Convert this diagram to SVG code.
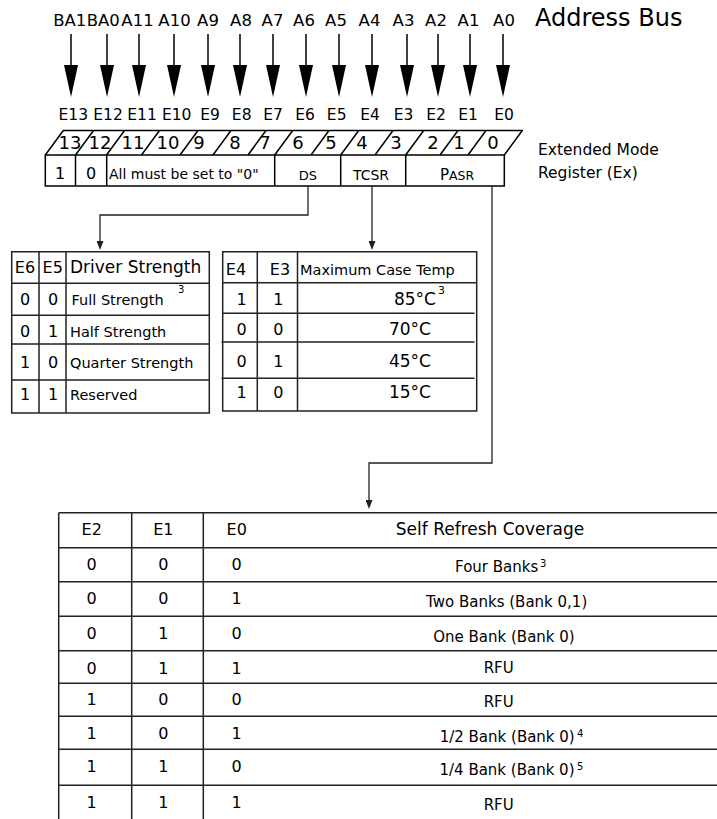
<svg xmlns="http://www.w3.org/2000/svg" width="717" height="819" viewBox="0 0 717 819">
<style>
text{font-family:"DejaVu Sans",Verdana,sans-serif;fill:#000}
.m{text-anchor:middle}
.bus{font-size:16.5px}
.eb{font-size:15.5px}
.bn{font-size:18px}
.ln{stroke:#000;stroke-width:1.5;fill:none}
.tl{stroke:#222;stroke-width:1.5;fill:none}
.arr{stroke:#000;stroke-width:1.5;fill:none;marker-end:url(#big)}
.con{stroke:#222;stroke-width:1.3;fill:none;marker-end:url(#small)}
.sup{font-size:10px}
</style>
<defs>
<marker id="big" viewBox="0 0 32 14" refX="25" refY="7" markerWidth="32" markerHeight="14" markerUnits="userSpaceOnUse" orient="auto"><path d="M0,0 L32,7 L0,14 z" fill="#000"/></marker>
<marker id="small" viewBox="0 0 9 7" refX="6" refY="3.5" markerWidth="9" markerHeight="7" markerUnits="userSpaceOnUse" orient="auto"><path d="M0,0 L9,3.5 L0,7 z" fill="#222"/></marker>
</defs>

<g id="address-bus">
<text class="bus m" x="69.7" y="26">BA1</text>
<text class="bus m" x="103.3" y="26">BA0</text>
<text class="bus m" x="137.5" y="26">A11</text>
<text class="bus m" x="174.5" y="26">A10</text>
<text class="bus m" x="208" y="26">A9</text>
<text class="bus m" x="241" y="26">A8</text>
<text class="bus m" x="272.5" y="26">A7</text>
<text class="bus m" x="304" y="26">A6</text>
<text class="bus m" x="336" y="26">A5</text>
<text class="bus m" x="369.5" y="26">A4</text>
<text class="bus m" x="403.5" y="26">A3</text>
<text class="bus m" x="436" y="26">A2</text>
<text class="bus m" x="468.5" y="26">A1</text>
<text class="bus m" x="504" y="26">A0</text>
<text x="535" y="26" style="font-size:24px">Address Bus</text>
<text class="eb m" x="73.3" y="120">E13</text>
<text class="eb m" x="108" y="120">E12</text>
<text class="eb m" x="142" y="120">E11</text>
<text class="eb m" x="176.7" y="120">E10</text>
<text class="eb m" x="210" y="120">E9</text>
<text class="eb m" x="241.7" y="120">E8</text>
<text class="eb m" x="273" y="120">E7</text>
<text class="eb m" x="305" y="120">E6</text>
<text class="eb m" x="336.7" y="120">E5</text>
<text class="eb m" x="370" y="120">E4</text>
<text class="eb m" x="403.5" y="120">E3</text>
<text class="eb m" x="436" y="120">E2</text>
<text class="eb m" x="468" y="120">E1</text>
<text class="eb m" x="504" y="120">E0</text>
</g>

<g id="register">
<path class="ln" d="M63,130.5 H523 M45.3,155 H504.3 V186 H45.3 Z M75.5,155 V186 M106.7,155 V186 M274.7,155 V186 M340.7,155 V186 M405.7,155 V186"/>
<path class="ln" d="M45.3,155 l18,-24.5 M75.5,155 l18,-24.5 M106.5,155 l18,-24.5 M141.5,155 l18,-24.5 M180,155 l18,-24.5 M213,155 l18,-24.5 M248,155 l18,-24.5 M274.7,155 l18,-24.5 M311,155 l18,-24.5 M340.7,155 l18,-24.5 M375,155 l18,-24.5 M405.7,155 l18,-24.5 M440,155 l18,-24.5 M468,155 l18,-24.5 M504.3,155 l18,-24.5"/>
<text class="bn m" x="70" y="149">13</text>
<text class="bn m" x="100" y="149">12</text>
<text class="bn m" x="133" y="149">11</text>
<text class="bn m" x="168" y="149">10</text>
<text class="bn m" x="199" y="149">9</text>
<text class="bn m" x="235" y="149">8</text>
<text class="bn m" x="265" y="149">7</text>
<text class="bn m" x="298" y="149">6</text>
<text class="bn m" x="331" y="149">5</text>
<text class="bn m" x="362" y="149">4</text>
<text class="bn m" x="396" y="149">3</text>
<text class="bn m" x="433" y="149">2</text>
<text class="bn m" x="459" y="149">1</text>
<text class="bn m" x="493" y="149">0</text>
<text class="m" x="60" y="179" style="font-size:16px">1</text>
<text class="m" x="91" y="179" style="font-size:16px">0</text>
<text x="109" y="179" style="font-size:14px">All must be set to "0"</text>
<text class="m" x="308" y="180" style="font-size:13px">DS</text>
<text class="m" x="371" y="180" style="font-size:14px">TCSR</text>
<text class="m" x="457" y="180" style="font-size:12.5px"><tspan style="font-size:15px">P</tspan>ASR</text>
<text x="538" y="155" style="font-size:15.5px">Extended Mode</text>
<text x="538" y="178" style="font-size:15.5px">Register (Ex)</text>
</g>

<g id="connectors">
<line class="arr" x1="71" y1="34" x2="71" y2="90"/>
<line class="arr" x1="107" y1="34" x2="107" y2="90"/>
<line class="arr" x1="139" y1="34" x2="139" y2="90"/>
<line class="arr" x1="174" y1="34" x2="174" y2="90"/>
<line class="arr" x1="208" y1="34" x2="208" y2="90"/>
<line class="arr" x1="240" y1="34" x2="240" y2="90"/>
<line class="arr" x1="273" y1="34" x2="273" y2="90"/>
<line class="arr" x1="306" y1="34" x2="306" y2="90"/>
<line class="arr" x1="339" y1="34" x2="339" y2="90"/>
<line class="arr" x1="372" y1="34" x2="372" y2="90"/>
<line class="arr" x1="407" y1="34" x2="407" y2="90"/>
<line class="arr" x1="438" y1="34" x2="438" y2="90"/>
<line class="arr" x1="470" y1="34" x2="470" y2="90"/>
<line class="arr" x1="503" y1="34" x2="503" y2="90"/>
<path class="con" d="M308,186 V215 H100 V247"/>
<path class="con" d="M372,186 V247"/>
<path class="con" d="M492,186 V463 H369 V506"/>
</g>

<g id="driver-strength-table">
<path class="tl" d="M11.7,251.7 H209.3 V413 H11.7 Z M39,251.7 V413 M66,251.7 V413 M11.7,283.3 H209.3 M11.7,315.3 H209.3 M11.7,344 H209.3 M11.7,380 H209.3"/>
<text class="m" x="25" y="273" style="font-size:16px">E6</text>
<text class="m" x="52.7" y="273" style="font-size:16px">E5</text>
<text x="70" y="273" style="font-size:17px">Driver Strength</text>
<text class="m" x="25" y="305" style="font-size:16px">0</text>
<text class="m" x="53" y="305" style="font-size:16px">0</text>
<text x="71.5" y="305" style="font-size:14.5px">Full Strength</text>
<text class="sup" x="178" y="293">3</text>
<text class="m" x="25" y="336.7" style="font-size:16px">0</text>
<text class="m" x="53" y="336.7" style="font-size:16px">1</text>
<text x="70" y="336.7" style="font-size:14.5px">Half Strength</text>
<text class="m" x="25" y="368.3" style="font-size:16px">1</text>
<text class="m" x="53" y="368.3" style="font-size:16px">0</text>
<text x="70" y="368.3" style="font-size:14.5px">Quarter Strength</text>
<text class="m" x="25" y="400" style="font-size:16px">1</text>
<text class="m" x="53" y="400" style="font-size:16px">1</text>
<text x="70" y="400" style="font-size:14.5px">Reserved</text>
</g>

<g id="case-temp-table">
<path class="tl" d="M222.7,251.7 H476.7 V411 H222.7 Z M257.3,251.7 V411 M297.5,251.7 V411 M222.7,282.7 H476.7 M222,313.3 H474.5 M221.5,342 H474.5 M221.5,378.3 H474.5"/>
<text class="m" x="236" y="275" style="font-size:16px">E4</text>
<text class="m" x="280" y="275" style="font-size:16px">E3</text>
<text x="300" y="275" style="font-size:14.5px">Maximum Case Temp</text>
<text class="m" x="241.5" y="305" style="font-size:16px">1</text>
<text class="m" x="278.3" y="305" style="font-size:16px">1</text>
<text class="m" x="415" y="305" style="font-size:17px">85°C</text>
<text x="438" y="294" style="font-size:11px">3</text>
<text class="m" x="241.5" y="335" style="font-size:16px">0</text>
<text class="m" x="278.3" y="335" style="font-size:16px">0</text>
<text class="m" x="410" y="335" style="font-size:17px">70°C</text>
<text class="m" x="241.5" y="366.7" style="font-size:16px">0</text>
<text class="m" x="278.3" y="366.7" style="font-size:16px">1</text>
<text class="m" x="410" y="366.7" style="font-size:17px">45°C</text>
<text class="m" x="241.5" y="398.3" style="font-size:16px">1</text>
<text class="m" x="278.3" y="398.3" style="font-size:16px">0</text>
<text class="m" x="410" y="398.3" style="font-size:17px">15°C</text>
</g>

<g id="self-refresh-table">
<path class="tl" d="M58.7,512.7 H720 M58.7,547.7 H720 M58.7,581.7 H720 M58.7,616.3 H720 M58.7,650.7 H720 M58.7,683.3 H720 M58.7,716.3 H720 M58.7,749.3 H720 M58.7,785.3 H720 M58.7,512.7 V822 M131.7,512.7 V822 M203.3,512.7 V822"/>
<g style="font-size:16px" class="m">
<text x="91.7" y="535">E2</text><text x="163.3" y="535">E1</text><text x="236.7" y="535">E0</text>
<text x="91.7" y="570">0</text><text x="163.3" y="570">0</text><text x="236.7" y="570">0</text>
<text x="91.7" y="604">0</text><text x="163.3" y="604">0</text><text x="236.7" y="604">1</text>
<text x="91.7" y="639.3">0</text><text x="163.3" y="639.3">1</text><text x="236.7" y="639.3">0</text>
<text x="91.7" y="674.3">0</text><text x="163.3" y="674.3">1</text><text x="236.7" y="674.3">1</text>
<text x="91.7" y="705">1</text><text x="163.3" y="705">0</text><text x="236.7" y="705">0</text>
<text x="91.7" y="739.3">1</text><text x="163.3" y="739.3">0</text><text x="236.7" y="739.3">1</text>
<text x="91.7" y="772">1</text><text x="163.3" y="772">1</text><text x="236.7" y="772">0</text>
<text x="91.7" y="808.3">1</text><text x="163.3" y="808.3">1</text><text x="236.7" y="808.3">1</text>
</g>
<text class="m" x="490" y="535" style="font-size:17px">Self Refresh Coverage</text>
<g style="font-size:15px" class="m">
<text x="496.7" y="571.7">Four Banks</text>
<text x="506.7" y="606.7">Two Banks (Bank 0,1)</text>
<text x="504" y="641.7">One Bank (Bank 0)</text>
<text x="498.7" y="673.3">RFU</text>
<text x="498.7" y="706.7">RFU</text>
<text x="507.2" y="741.7">1/2 Bank (Bank 0)</text>
<text x="507" y="775">1/4 Bank (Bank 0)</text>
<text x="498.7" y="810">RFU</text>
</g>
<text class="sup" x="540" y="567">3</text>
<text class="sup" x="577" y="736.5">4</text>
<text class="sup" x="577" y="770">5</text>
</g>
</svg>
